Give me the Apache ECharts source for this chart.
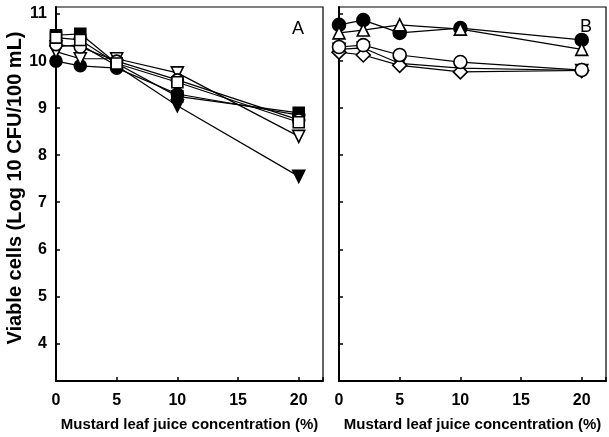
<!DOCTYPE html>
<html>
<head>
<meta charset="utf-8">
<script src="https://cdn.jsdelivr.net/npm/echarts@6/dist/echarts.min.js"></script>
<style>
  html, body { margin: 0; padding: 0; background: #fff; }
  #chart { width: 609px; height: 437px; }
</style>
</head>
<body>
<div id="chart"></div>
<script>
// juice concentrations (%)
var conc = [0, 2, 5, 10, 20];
var yTicks = [4, 5, 6, 7, 8, 9, 10, 11];

// panel A
var aFilledCircle = [10.0, 9.9, 9.85, 9.3, 8.85];
var aFilledSquare = [10.55, 10.58, 9.95, 9.25, 8.9];
var aOpenSquare   = [10.5, 10.45, 9.95, 9.55, 8.7];
var aOpenCircle   = [10.35, 10.3, 10.0, 9.6, 8.75];
var aOpenTriDown  = [10.2, 10.05, 10.05, 9.75, 8.4];
var aFilledTriDown = [10.3, 10.35, 9.9, 9.05, 7.55];

// panel B
var bFilledCircle = [10.77, 10.87, 10.6, 10.7, 10.45];
var bOpenTriUp    = [10.6, 10.66, 10.77, 10.68, 10.25];
var bFilledTriDown = [10.25, 10.28, 9.95, 9.85, 9.8];
var bOpenCircle   = [10.3, 10.34, 10.13, 9.98, 9.81];
var bOpenDiamond  = [10.19, 10.13, 9.91, 9.77, 9.8];

var FONT = 'Liberation Sans';

function pairs(vals) {
  return conc.map(function (c, i) { return [c, vals[i]]; });
}

function mk(vals, idx, symbol, filled, rotate, size) {
  return {
    type: 'line',
    xAxisIndex: idx,
    yAxisIndex: idx,
    data: pairs(vals),
    symbol: symbol,
    symbolSize: size || 12,
    symbolRotate: rotate || 0,
    showAllSymbol: true,
    lineStyle: { color: '#000', width: 1.2 },
    itemStyle: { color: filled ? '#000' : '#fff', borderColor: '#000', borderWidth: 1.6 },
    emphasis: { disabled: true },
    z: filled ? 3 : 4
  };
}

function xAx(idx) {
  return {
    type: 'value', gridIndex: idx, min: 0, max: 22, interval: 5,
    name: 'Mustard leaf juice concentration (%)',
    nameLocation: 'middle', nameGap: 36,
    nameTextStyle: { color: '#000', fontFamily: FONT, fontSize: 15, fontWeight: 'bold' },
    axisLine: { onZero: false, lineStyle: { color: '#000', width: 2 } },
    axisTick: { inside: true, length: 4, lineStyle: { color: '#000', width: 1.5 } },
    axisLabel: { color: '#000', fontFamily: FONT, fontSize: 16, fontWeight: 'bold', margin: 12,
      formatter: function (v) { return v > 20 ? '' : v; } },
    splitLine: { show: false }
  };
}

function yAx(idx, labels) {
  var ax = {
    type: 'value', gridIndex: idx, min: 3.2, max: 11.15,
    axisLine: { onZero: false, lineStyle: { color: '#000', width: 2 } },
    axisTick: { inside: true, length: 4, customValues: yTicks, lineStyle: { color: '#000', width: 1.5 } },
    axisLabel: { show: labels, color: '#000', fontFamily: FONT, fontSize: 16, fontWeight: 'bold', margin: 9,
      customValues: yTicks },
    splitLine: { show: false }
  };
  if (labels) {
    ax.name = 'Viable cells (Log 10 CFU/100 mL)';
    ax.nameLocation = 'middle';
    ax.nameGap = 26;
    ax.nameTextStyle = { color: '#000', fontFamily: FONT, fontSize: 20, fontWeight: 'bold', padding: [0, 0, 0, 12] };
  }
  return ax;
}

var chart = echarts.init(document.getElementById('chart'), null, { renderer: 'canvas' });
chart.setOption({
  backgroundColor: '#fff',
  animation: false,
  grid: [
    { left: 56, top: 7, width: 267, height: 374, show: true, borderColor: '#000', borderWidth: 1.2, backgroundColor: 'transparent' },
    { left: 339, top: 7, width: 268, height: 374, show: true, borderColor: '#000', borderWidth: 1.2, backgroundColor: 'transparent' }
  ],
  xAxis: [xAx(0), xAx(1)],
  yAxis: [yAx(0, true), yAx(1, false)],
  graphic: [
    { type: 'text', left: 292, top: 20, style: { text: 'A', font: '18px "Liberation Sans"', fill: '#000' } },
    { type: 'text', left: 580, top: 18, style: { text: 'B', font: '18px "Liberation Sans"', fill: '#000' } }
  ],
  series: [
    mk(aFilledTriDown, 0, 'triangle', true, 180),
    mk(aFilledCircle, 0, 'circle', true),
    mk(aOpenTriDown, 0, 'triangle', false, 180),
    mk(aOpenCircle, 0, 'circle', false),
    mk(aOpenSquare, 0, 'rect', false, 0, 11),
    mk(aFilledSquare, 0, 'rect', true, 0, 11),
    mk(bFilledTriDown, 1, 'triangle', true, 180),
    mk(bOpenDiamond, 1, 'diamond', false, 0, 14),
    mk(bOpenCircle, 1, 'circle', false, 0, 13),
    mk(bOpenTriUp, 1, 'triangle', false),
    mk(bFilledCircle, 1, 'circle', true, 0, 13)
  ]
});
</script>
</body>
</html>
